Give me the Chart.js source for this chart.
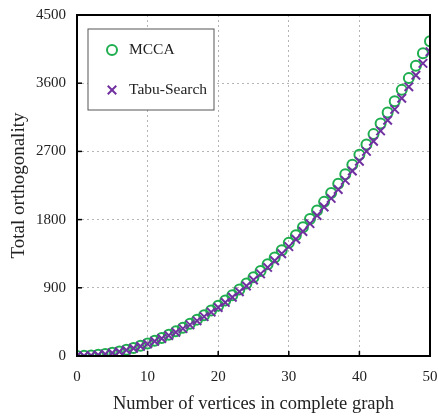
<!DOCTYPE html>
<html>
<head>
<meta charset="utf-8">
<script src="https://cdn.jsdelivr.net/npm/chart.js@4"></script>
<style>
  html, body { margin: 0; padding: 0; background: #fff; }
  #wrap { width: 438px; height: 417px; }
</style>
</head>
<body>
<div id="wrap"><canvas id="chart" width="438" height="417"></canvas></div>
<script>
// vertices in complete graph
const vertices = [0,1,2,3,4,5,6,7,8,9,10,11,12,13,14,15,16,17,18,19,20,21,22,23,24,25,
    26,27,28,29,30,31,32,33,34,35,36,37,38,39,40,41,42,43,44,45,46,47,48,49,50]

// total orthogonality
const mccaValues = [0,2,7,15,27,42,60,81,106,134,166,201,239,281,325,374,425,480,538,599,
    664,732,803,878,956,1038,1122,1210,1301,1396,1494,1595,1700,1808,1919,2034,2151,2273,
    2397,2525,2656,2790,2928,3069,3213,3361,3512,3667,3830,3995,4155]
const tabuValues = [0,2,6,14,25,40,57,78,102,129,160,194,231,271,314,361,411,464,520,579,
    641,707,776,848,923,1002,1084,1169,1257,1349,1443,1541,1643,1747,1855,1966,2080,2198,
    2318,2442,2570,2700,2834,2971,3111,3255,3402,3552,3705,3862,4015]

const xTicks = [0, 10, 20, 30, 40, 50]
const yTicks = [0, 900, 1800, 2700, 3600, 4500]

const green = "#1fae4f"
const purple = "#7030a0"
const serif = "'Liberation Serif', 'Times New Roman', serif"

function toPoints(ys) {
    return vertices.map((x, i) => ({x: x, y: ys[i]}))
}

// frame, inward ticks and the boxed legend
const framePlugin = {
    id: "frame",
    afterDraw(chart) {
        const ctx = chart.ctx
        const a = chart.chartArea
        const xs = chart.scales.x
        const ys = chart.scales.y
        ctx.save()
        ctx.strokeStyle = "#000"
        ctx.lineWidth = 1.5
        xTicks.forEach(t => {
            const px = xs.getPixelForValue(t)
            ctx.beginPath(); ctx.moveTo(px, a.bottom); ctx.lineTo(px, a.bottom - 5); ctx.stroke()
        })
        yTicks.forEach(t => {
            const py = ys.getPixelForValue(t)
            ctx.beginPath(); ctx.moveTo(a.left, py); ctx.lineTo(a.left + 5, py); ctx.stroke()
        })
        ctx.lineWidth = 2
        ctx.strokeRect(a.left, a.top, a.right - a.left, a.bottom - a.top)

        // legend box
        const lx = a.left + 11, ly = a.top + 14
        ctx.fillStyle = "#fff"
        ctx.fillRect(lx, ly, 126, 81)
        ctx.lineWidth = 1
        ctx.strokeStyle = "#555"
        ctx.strokeRect(lx, ly, 126, 81)
        ctx.font = "15.5px " + serif
        ctx.textBaseline = "middle"
        chart.data.datasets.forEach((ds, i) => {
            const cy = ly + 21 + i * 40
            ctx.strokeStyle = ds.borderColor
            ctx.fillStyle = "rgba(0,0,0,0)"
            ctx.lineWidth = 2
            Chart.helpers.drawPoint(ctx, {pointStyle: ds.pointStyle, radius: ds.pointRadius,
                borderWidth: 2, rotation: 0}, lx + 24, cy)
            ctx.fillStyle = "#222"
            ctx.fillText(ds.label, lx + 41, cy)
        })
        ctx.restore()
    }
}

const chart = new Chart(document.getElementById("chart"), {
    type: "scatter",
    data: {
        datasets: [{
            label: "MCCA",
            data: toPoints(mccaValues),
            pointStyle: "circle",
            pointRadius: 5,
            borderColor: green,
            backgroundColor: "rgba(0,0,0,0)",
            borderWidth: 2,
            order: 1
        }, {
            label: "Tabu-Search",
            data: toPoints(tabuValues),
            pointStyle: "crossRot",
            pointRadius: 6,
            borderColor: purple,
            backgroundColor: purple,
            borderWidth: 2,
            order: 0
        }]
    },
    options: {
        responsive: false,
        animation: false,
        layout: {padding: {top: 15, right: 0, left: 4, bottom: 2}},
        plugins: {legend: {display: false}, tooltip: {enabled: false}},
        scales: {
            x: {
                type: "linear",
                min: 0,
                max: 50,
                afterBuildTicks: s => { s.ticks = xTicks.map(v => ({value: v})) },
                afterFit: s => { s.height = 59 },
                grid: {color: "#b5b5b5", lineWidth: 1, drawTicks: true, tickLength: 12,
                    tickColor: "rgba(0,0,0,0)"},
                border: {display: false, dash: [2, 3]},
                ticks: {color: "#222", font: {family: serif, size: 15}, padding: 0,
                    callback: v => String(v)},
                title: {display: true, text: "Number of vertices in complete graph",
                    color: "#222", font: {family: serif, size: 18.5}, padding: {top: 4, bottom: 0}}
            },
            y: {
                min: 0,
                max: 4500,
                afterBuildTicks: s => { s.ticks = yTicks.map(v => ({value: v})) },
                afterFit: s => { s.width = 73 },
                grid: {color: "#b5b5b5", lineWidth: 1, drawTicks: true, tickLength: 11,
                    tickColor: "rgba(0,0,0,0)"},
                border: {display: false, dash: [2, 3]},
                ticks: {color: "#222", font: {family: serif, size: 15}, padding: 0,
                    callback: v => String(v)},
                title: {display: true, text: "Total orthogonality",
                    color: "#222", font: {family: serif, size: 19}, padding: {top: 4, bottom: 0}}
            }
        }
    },
    plugins: [framePlugin]
})
</script>
</body>
</html>
